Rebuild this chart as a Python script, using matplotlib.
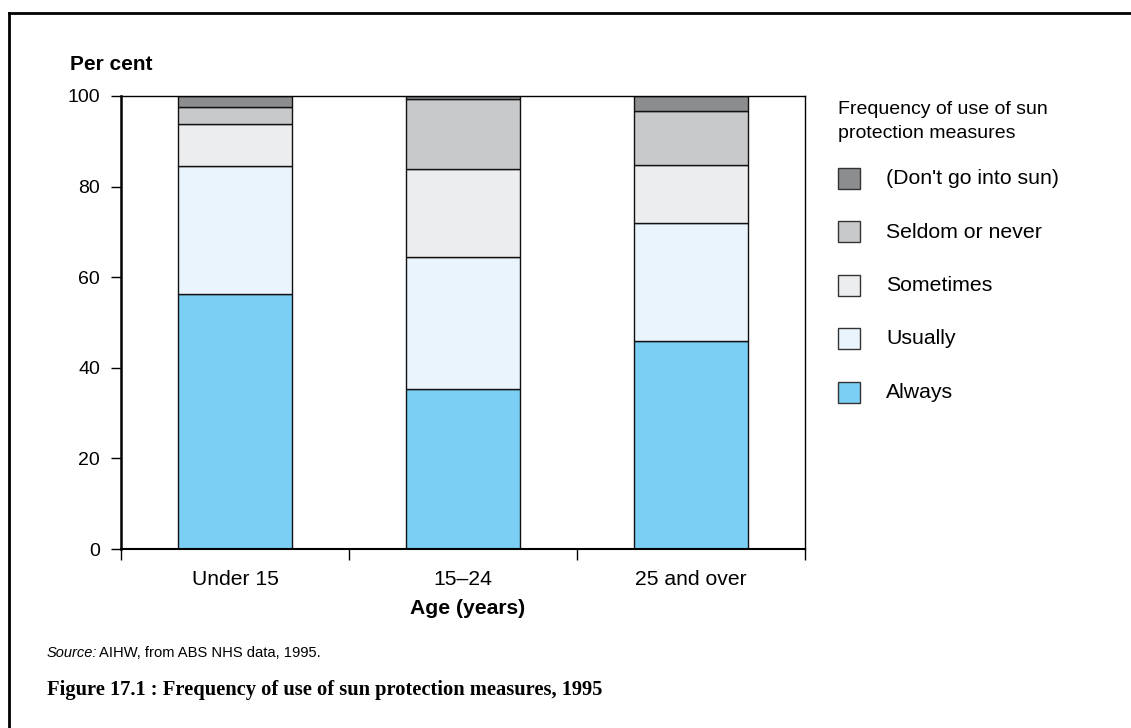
import matplotlib
matplotlib.use("Agg")
import matplotlib.pyplot as plt
from matplotlib.patches import Rectangle
from matplotlib.lines import Line2D
import numpy as np

categories = ["Under 15", "15\u201324", "25 and over"]
series_names = ["Always", "Usually", "Sometimes", "Seldom or never", "(Don't go into sun)"]
always = [56.3, 35.3, 45.9]
usually = [28.2, 29.2, 26.1]
sometimes = [9.3, 19.4, 12.8]
seldom = [3.7, 15.4, 11.9]
dont_go = [2.5, 0.7, 3.3]
colors = ["#7BCEF4", "#EAF4FD", "#ECEDEE", "#C8C9CB", "#8C8D8F"]
yticks = [0, 20, 40, 60, 80, 100]

plt.rcParams['font.family'] = ['Liberation Sans', 'DejaVu Sans']

W, H = 1131, 728
fig = plt.figure(figsize=(W / 100, H / 100), dpi=100)

def fx(px):
    return px / W

def fy(py):
    return 1 - py / H

ax = fig.add_axes([fx(121), fy(549), fx(805) - fx(121), fy(96) - fy(549)])

x = np.arange(len(categories)) + 0.5
bottom = np.zeros(len(categories))
for vals, c in zip([always, usually, sometimes, seldom, dont_go], colors):
    ax.bar(x, vals, width=0.5, bottom=bottom, color=c, edgecolor="#111111", linewidth=1.0)
    bottom += np.array(vals)

ax.set_xlim(0, 3)
ax.set_ylim(0, 100)
ax.set_yticks(yticks)
ax.set_yticklabels([str(v) for v in yticks], fontsize=14)
ax.set_xticks([0, 1, 2, 3])
ax.set_xticklabels([])
ax.set_xticks(x, minor=True)
ax.set_xticklabels(categories, minor=True, fontsize=15.2)
ax.tick_params(axis='x', which='minor', length=0, pad=15)
ax.tick_params(axis='x', which='major', length=8, width=1, direction='out')
ax.tick_params(axis='y', length=7, width=1, direction='out', pad=8)
for s in ax.spines.values():
    s.set_linewidth(1.0)
ax.spines['left'].set_linewidth(1.8)
ax.spines['bottom'].set_linewidth(1.5)

fig.text(fx(468), fy(608), "Age (years)", ha='center', va='center', fontsize=15.2, fontweight='bold')
fig.text(fx(70), fy(65), "Per cent", ha='left', va='center', fontsize=15, fontweight='bold')

# legend
fig.text(fx(838), fy(109), "Frequency of use of sun", ha='left', va='center', fontsize=14)
fig.text(fx(838), fy(134), "protection measures", ha='left', va='center', fontsize=14)
leg_y = [179, 232, 286, 339, 393]
for name, c, yy in zip(series_names[::-1], colors[::-1], leg_y):
    fig.add_artist(Rectangle((fx(838), fy(yy + 10)), fx(22), fy(0) - fy(21),
                             transform=fig.transFigure, facecolor=c, edgecolor="#333333", linewidth=1.0))
    fig.text(fx(886), fy(yy), name, ha='left', va='center', fontsize=15.3)

# source and caption
fig.text(fx(47), fy(653), "Source:", ha='left', va='center', fontsize=10.5, style='italic')
fig.text(fx(99), fy(653), "AIHW, from ABS NHS data, 1995.", ha='left', va='center', fontsize=10.6)
fig.text(fx(47), fy(690), "Figure 17.1 : Frequency of use of sun protection measures, 1995",
         ha='left', va='center', fontsize=14.8, fontweight='bold', family=['Liberation Serif', 'DejaVu Serif'])

# border lines (left and top)
fig.add_artist(Line2D([fx(9), fx(9)], [fy(13), 0], transform=fig.transFigure, color='black', linewidth=2))
fig.add_artist(Line2D([fx(9), 1], [fy(13), fy(13)], transform=fig.transFigure, color='black', linewidth=2))

fig.savefig("out.png", dpi=100)
